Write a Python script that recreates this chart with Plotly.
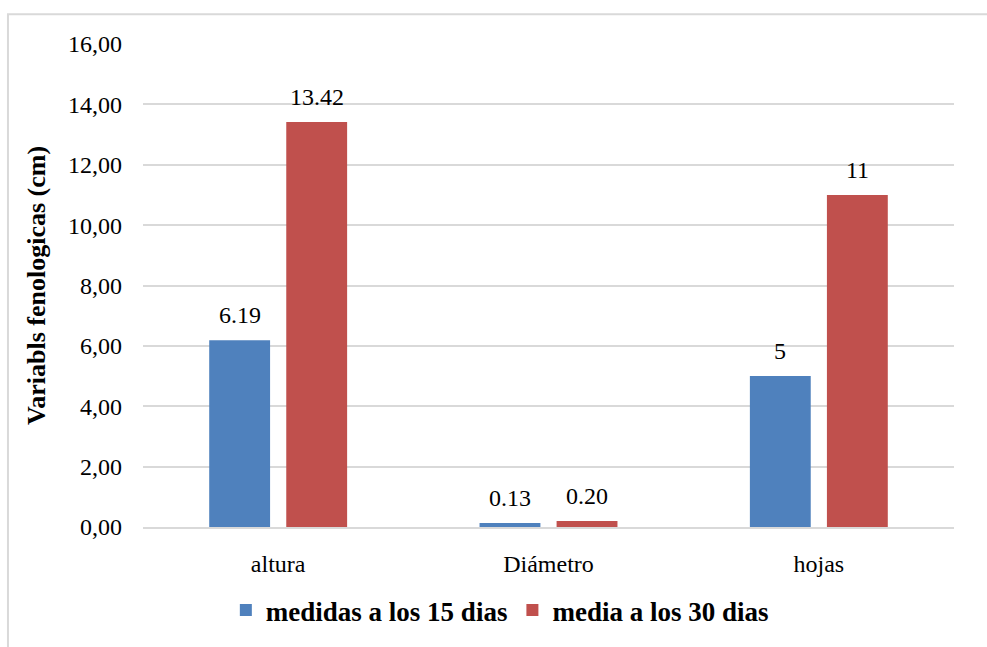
import plotly.graph_objects as go

# Phenological variables measured at two dates
categories = ["altura", "Diámetro", "hojas"]
dias_15 = [6.19, 0.13, 5]
dias_30 = [13.42, 0.20, 11]
series_names = ["medidas a los 15 dias", "media a los 30 dias"]
y_ticks = [0, 2, 4, 6, 8, 10, 12, 14, 16]

BLUE = "#4f81bd"
RED = "#c0504d"
GRID = "#d9d9d9"
FONT = "Liberation Serif"

WIDTH, HEIGHT = 987, 647
MARGIN = dict(l=143, r=33, t=44, b=117)
BARGAP, GROUPGAP = 0.43, 0.21


def label(v):
    return str(int(v)) if float(v).is_integer() else f"{v:.2f}"


fig = go.Figure()
series = [(series_names[0], dias_15, BLUE), (series_names[1], dias_30, RED)]
for name, vals, color in series:
    fig.add_trace(go.Bar(
        x=categories, y=vals, name=name,
        marker=dict(color=color, line=dict(width=0)),
    ))

# Value labels above each bar, shifted to the centre of its slot in the group
plot_w = WIDTH - MARGIN["l"] - MARGIN["r"]
slot_px = plot_w / len(categories) * (1 - BARGAP) / len(series)
for i, (name, vals, color) in enumerate(series):
    dx = (i - (len(series) - 1) / 2) * slot_px
    for cat, v in zip(categories, vals):
        fig.add_annotation(x=cat, y=v, xref="x", yref="y", text=label(v),
                           showarrow=False, xshift=dx, yshift=10,
                           yanchor="bottom", xanchor="center",
                           font=dict(family=FONT, size=24, color="#000000"))

# Light frame around the chart area
fig.add_shape(type="rect", xref="paper", yref="paper",
              x0=-0.1665, x1=1.044, y0=-0.3, y1=1.0617,
              line=dict(color=GRID, width=2), fillcolor="rgba(0,0,0,0)", layer="below")

fig.update_layout(
    width=WIDTH, height=HEIGHT,
    margin=MARGIN,
    paper_bgcolor="white", plot_bgcolor="white",
    separators=",.",
    barmode="group", bargap=BARGAP, bargroupgap=GROUPGAP,
    font=dict(family=FONT, size=24, color="#000000"),
    showlegend=True,
    legend=dict(orientation="h", x=0.44, y=-0.173, xanchor="center", yanchor="middle",
                font=dict(family=FONT, size=27, color="#000000", weight="bold"),
                itemwidth=30, traceorder="normal"),
    xaxis=dict(showgrid=False, showline=True, linecolor=GRID, linewidth=2,
               ticks="", ticklabelstandoff=14, automargin=False,
               tickfont=dict(family=FONT, size=24, color="#000000")),
    yaxis=dict(range=[0, 16], tickvals=y_ticks, tickformat=".2f",
               showgrid=True, gridcolor=GRID, gridwidth=2,
               zeroline=False, showline=False, ticks="",
               ticklabelstandoff=20, automargin=False,
               tickfont=dict(family=FONT, size=24, color="#000000"),
               title=dict(text="Variabls fenologicas (cm)", standoff=14,
                          font=dict(family=FONT, size=26, weight="bold", color="#000000"))),
)

fig.write_html("out.html")
